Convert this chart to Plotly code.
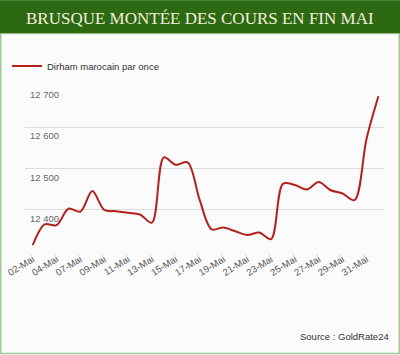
import plotly.graph_objects as go

# ---- data ----
categories = ["02-Mai", "03-Mai", "04-Mai", "06-Mai", "07-Mai", "08-Mai", "09-Mai", "10-Mai",
              "11-Mai", "12-Mai", "13-Mai", "14-Mai", "15-Mai", "16-Mai", "17-Mai", "18-Mai",
              "19-Mai", "20-Mai", "21-Mai", "22-Mai", "23-Mai", "24-Mai", "25-Mai", "26-Mai",
              "27-Mai", "28-Mai", "29-Mai", "30-Mai", "31-Mai", "01-Juin"]
values = [12313, 12364, 12362, 12402, 12395, 12445, 12399, 12396, 12392, 12388,
          12368, 12527, 12509, 12515, 12424, 12352, 12356, 12347, 12338, 12344,
          12328, 12463, 12460, 12449, 12467, 12447, 12439, 12423, 12572, 12676]
y_ticks = [12300, 12400, 12500, 12600, 12700]
y_labelled = [12400, 12500, 12600, 12700]
y_tick_labels = ["12 400", "12 500", "12 600", "12 700"]
series_name = "Dirham marocain par once"
title_text = "BRUSQUE MONTÉE DES COURS EN FIN MAI"
source_text = "Source : GoldRate24"

W, H = 400, 355
L, R, T, B = 25, 384, 86, 251.5  # plot area in pixels


def px(x):
    return (x - L) / (R - L)


def py(y):
    return (B - y) / (B - T)


idx = list(range(len(categories)))
tick_idx = idx[0:29:2]
tick_text = [categories[i] for i in tick_idx]

fig = go.Figure()
fig.add_trace(go.Scatter(
    x=idx, y=values, mode="lines", name=series_name,
    line=dict(color="#b3211d", width=2, shape="spline", smoothing=0.9),
    hoverinfo="skip",
))

small = "Liberation Sans, Arial, sans-serif"

annotations = [
    dict(text=title_text, xref="paper", yref="paper",
         x=px(200), y=py(18), xanchor="center", yanchor="middle",
         showarrow=False,
         font=dict(family="Liberation Serif, Times New Roman, serif", size=17, color="#f4efdc")),
    dict(text=source_text, xref="paper", yref="paper",
         x=px(391), y=py(337), xanchor="right", yanchor="middle",
         showarrow=False,
         font=dict(family=small, size=9.5, color="#333333")),
]
for v, t in zip(y_labelled, y_tick_labels):
    annotations.append(dict(
        text=t, xref="paper", yref="y", x=px(28), y=v,
        xanchor="left", yanchor="top", yshift=-1, showarrow=False,
        font=dict(family=small, size=9.5, color="#666666"),
    ))

fig.update_layout(
    width=W, height=H,
    margin=dict(l=L, r=W - R, t=T, b=H - B, pad=0, autoexpand=False),
    paper_bgcolor="#fbfbfb",
    plot_bgcolor="#fbfbfb",
    showlegend=True,
    legend=dict(
        x=px(7), y=py(66), xanchor="left", yanchor="middle",
        orientation="h", bgcolor="rgba(0,0,0,0)",
        font=dict(family=small, size=9.5, color="#333333"),
        itemwidth=30,
    ),
    xaxis=dict(
        range=[-0.646, 29.47],
        tickvals=tick_idx, ticktext=tick_text,
        tickangle=-32,
        tickfont=dict(family=small, size=9.5, color="#555555"),
        showgrid=False, zeroline=False, showline=False, ticks="",
        fixedrange=True, automargin=False,
    ),
    yaxis=dict(
        range=[12299, 12701],
        tickvals=y_ticks, showticklabels=False,
        showgrid=True, gridcolor="#dcdcdc", gridwidth=1,
        zeroline=False, showline=False, ticks="",
        fixedrange=True, automargin=False,
    ),
    shapes=[
        # outer light green border
        dict(type="rect", xref="paper", yref="paper",
             x0=px(0.75), x1=px(W - 0.75), y0=py(0.75), y1=py(H - 0.75),
             line=dict(color="#a6c79a", width=1.5), fillcolor="rgba(0,0,0,0)", layer="above"),
        # title bar
        dict(type="rect", xref="paper", yref="paper",
             x0=px(0), x1=px(W), y0=py(0), y1=py(33),
             line=dict(width=0), fillcolor="#2c6912", layer="above"),
        dict(type="line", xref="paper", yref="paper",
             x0=px(0), x1=px(W), y0=py(33.5), y1=py(33.5),
             line=dict(color="#8db57c", width=1), layer="above"),
    ],
    annotations=annotations,
)

fig.write_html(
    "out.html",
    config={"displayModeBar": False, "responsive": False},
    post_script="document.body.style.margin='0';document.body.style.padding='0';document.body.style.overflow='hidden';",
)
